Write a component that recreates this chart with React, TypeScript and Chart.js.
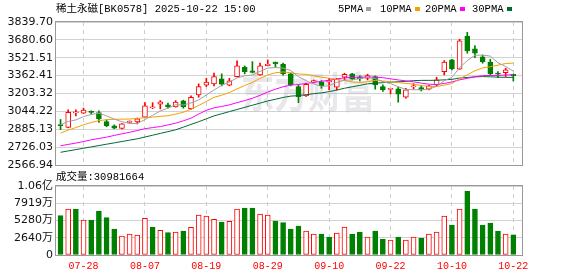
import React, { useEffect, useRef } from 'react';
import { Chart, registerables } from 'chart.js';

Chart.register(...registerables);

// ---------- data ----------
const dates = [
  '07-23', '07-24', '07-25', '07-28', '07-29', '07-30', '07-31', '08-01', '08-04', '08-05',
  '08-06', '08-07', '08-08', '08-11', '08-12', '08-13', '08-14', '08-15', '08-18', '08-19',
  '08-20', '08-21', '08-22', '08-25', '08-26', '08-27', '08-28', '08-29', '09-01', '09-02',
  '09-03', '09-04', '09-05', '09-08', '09-09', '09-10', '09-11', '09-12', '09-15', '09-16',
  '09-17', '09-18', '09-19', '09-22', '09-23', '09-24', '09-25', '09-26', '09-29', '09-30',
  '10-09', '10-10', '10-13', '10-14', '10-15', '10-16', '10-17', '10-20', '10-21', '10-22',
];

const opens = [
  2922, 2902, 3031, 3028, 3040, 3034, 2954, 2915, 2892, 2945,
  2951, 2993, 3076, 3108, 3102, 3084, 3138, 3069, 3191, 3277,
  3289, 3333, 3277, 3354, 3437, 3404, 3369, 3451, 3482, 3464,
  3378, 3265, 3182, 3304, 3304, 3309, 3259, 3348, 3378, 3351,
  3339, 3354, 3265, 3240, 3244, 3170, 3262, 3256, 3242, 3280,
  3398, 3502, 3419, 3715, 3600, 3529, 3482, 3380, 3389, 3375,
];
const highs = [
  2972, 3058, 3058, 3073, 3049, 3049, 2969, 2924, 2936, 2960,
  2984, 3122, 3122, 3140, 3117, 3140, 3144, 3182, 3289, 3339,
  3384, 3378, 3338, 3493, 3449, 3487, 3473, 3502, 3484, 3473,
  3384, 3280, 3295, 3324, 3318, 3339, 3338, 3384, 3382, 3360,
  3375, 3360, 3280, 3248, 3259, 3250, 3291, 3271, 3275, 3348,
  3496, 3508, 3686, 3748, 3629, 3546, 3508, 3398, 3428, 3376,
];
const lows = [
  2882, 2898, 3004, 3026, 3022, 2945, 2907, 2889, 2889, 2942,
  2933, 2991, 3068, 3066, 3073, 3082, 3073, 3062, 3170, 3265,
  3271, 3271, 3271, 3351, 3378, 3386, 3364, 3449, 3437, 3366,
  3271, 3122, 3178, 3295, 3250, 3235, 3235, 3324, 3324, 3315,
  3324, 3242, 3222, 3200, 3126, 3162, 3242, 3226, 3235, 3265,
  3369, 3413, 3418, 3562, 3522, 3473, 3369, 3345, 3354, 3315,
];
const closes = [
  2918, 3035, 3031, 3055, 3036, 2978, 2918, 2895, 2933, 2957,
  2978, 3093, 3076, 3129, 3084, 3126, 3084, 3170, 3265, 3304,
  3354, 3286, 3315, 3449, 3398, 3391, 3449, 3464, 3466, 3378,
  3282, 3176, 3286, 3318, 3271, 3309, 3330, 3375, 3333, 3333,
  3362, 3280, 3235, 3246, 3197, 3235, 3271, 3235, 3271, 3324,
  3482, 3422, 3671, 3582, 3562, 3487, 3378, 3376, 3413, 3362,
];

const ma5 = [
  2925, 2955, 2968, 2998, 3016, 3028, 3004, 2976, 2952, 2936,
  2936, 2971, 3009, 3048, 3073, 3103, 3101, 3119, 3146, 3190,
  3235, 3276, 3305, 3342, 3360, 3368, 3400, 3430, 3434, 3430,
  3408, 3353, 3318, 3288, 3267, 3272, 3303, 3321, 3324, 3336,
  3347, 3337, 3309, 3291, 3264, 3239, 3237, 3237, 3242, 3267,
  3317, 3347, 3434, 3496, 3544, 3545, 3536, 3477, 3443, 3403,
];
const ma10 = [
  2850, 2878, 2900, 2925, 2945, 2962, 2970, 2974, 2975, 2976,
  2982, 2988, 2993, 3000, 3005, 3020, 3036, 3064, 3097, 3132,
  3169, 3188, 3212, 3244, 3275, 3302, 3338, 3368, 3388, 3395,
  3388, 3377, 3374, 3361, 3348, 3340, 3328, 3319, 3306, 3301,
  3309, 3320, 3315, 3307, 3300, 3293, 3287, 3273, 3267, 3266,
  3278, 3292, 3335, 3369, 3406, 3431, 3441, 3456, 3470, 3474,
];
const ma20 = [
  2738, 2750, 2762, 2776, 2791, 2803, 2815, 2830, 2844, 2858,
  2874, 2890, 2900, 2909, 2924, 2939, 2960, 2984, 3020, 3054,
  3076, 3088, 3102, 3122, 3140, 3161, 3187, 3216, 3242, 3263,
  3278, 3283, 3293, 3302, 3312, 3321, 3333, 3343, 3347, 3348,
  3349, 3348, 3344, 3334, 3324, 3316, 3307, 3296, 3286, 3283,
  3293, 3306, 3325, 3338, 3353, 3362, 3364, 3364, 3368, 3370,
];
const ma30 = [
  2680, 2692, 2704, 2716, 2728, 2740, 2752, 2764, 2776, 2788,
  2800, 2816, 2832, 2848, 2864, 2880, 2904, 2928, 2952, 2978,
  3004, 3023, 3042, 3061, 3080, 3099, 3118, 3137, 3152, 3168,
  3180, 3184, 3193, 3202, 3209, 3220, 3234, 3250, 3263, 3276,
  3289, 3295, 3300, 3304, 3308, 3311, 3318, 3320, 3320, 3321,
  3325, 3329, 3341, 3346, 3351, 3354, 3352, 3349, 3347, 3347,
];

// volume in 万
const volumes = [
  6014, 7040, 7040, 5356, 5356, 6734, 5713, 3979, 2908, 3214,
  3061, 5611, 4285, 3775, 3418, 3520, 3673, 4234, 6122, 5969,
  5458, 5050, 5152, 7040, 7193, 7193, 6275, 6122, 5203, 4943,
  3979, 4438, 3673, 3214, 3214, 2755, 3367, 4285, 3214, 3520,
  2755, 3673, 2449, 2296, 2755, 2296, 2755, 2602, 3214, 3520,
  5969, 4591, 7040, 9795, 7040, 4591, 4897, 3673, 3214, 3098,
];

const priceTicks = [2566.94, 2726.03, 2885.13, 3044.22, 3203.32, 3362.41, 3521.51, 3680.6, 3839.7];
const volTicks = [0, 2640, 5280, 7919, 10560];
const volTickLabels = ['0', '2640万', '5280万', '7919万', '1.06亿'];
const xTickLabels = ['07-28', '08-07', '08-19', '08-29', '09-10', '09-22', '10-10', '10-22'];
const maNames = ['5PMA', '10PMA', '20PMA', '30PMA'];
const titleText = '稀土永磁[BK0578] 2025-10-22 15:00';
const volumeTitle = '成交量';
const lastVolume = '30981664';
const watermarkText = '东方财富';

// ---------- styles ----------
const RED = '#ff0000';
const GREEN = '#008000';
const MA_COLORS = ['#a0a0a0', '#f2a100', '#ff00ff', '#006a35'];
const MONO = "'Liberation Mono', 'Noto Sans CJK SC', monospace";
const AXIS = "'DejaVu Sans', 'Noto Sans CJK SC', sans-serif";
const X_MIN = -0.59;
const X_MAX = 60.13;

const tickIdx = xTickLabels.map((l) => dates.indexOf(l));

function xScale(showLabels: boolean): any {
  return {
    type: 'linear',
    min: X_MIN,
    max: X_MAX,
    offset: false,
    afterBuildTicks: (s: any) => {
      s.ticks = tickIdx.map((v) => ({ value: v }));
    },
    afterFit: (s: any) => {
      s.height = showLabels ? 21 : 0;
    },
    grid: { color: '#cccccc', drawTicks: false, offset: false, lineWidth: 1 },
    border: { display: false, dash: [4, 4] },
    ticks: {
      display: showLabels,
      autoSkip: false,
      maxRotation: 0,
      padding: 5,
      color: RED,
      font: { family: MONO, size: 10 },
      callback: (v: any) => dates[Math.round(Number(v))] ?? '',
    },
  };
}

function frameDraw(chart: any) {
  const { ctx, chartArea: a } = chart;
  ctx.save();
  ctx.strokeStyle = '#999999';
  ctx.lineWidth = 1;
  ctx.strokeRect(a.left - 0.5, a.top - 0.5, a.right - a.left + 1, a.bottom - a.top + 1);
  ctx.restore();
}

export default function App() {
  const priceRef = useRef<HTMLCanvasElement>(null);
  const volRef = useRef<HTMLCanvasElement>(null);

  useEffect(() => {
    const idx = dates.map((_, i) => i);
    const candleUp = closes.map((c, i) => c >= opens[i]);
    const volUp = closes.map((c, i) => c > opens[i]);

    const pricePlugin = {
      id: 'priceDecor',
      beforeDatasetsDraw(chart: any) {
        const { ctx } = chart;
        ctx.save();
        ctx.translate(308, 92);
        ctx.scale(0.8, 1);
        ctx.font = "bold 42px 'Noto Sans CJK SC'";
        ctx.fillStyle = 'rgba(180,180,195,0.32)';
        ctx.textAlign = 'center';
        ctx.textBaseline = 'middle';
        ctx.fillText(watermarkText, 0, 0);
        ctx.restore();
      },
      afterDraw(chart: any) {
        const { ctx } = chart;
        frameDraw(chart);
        ctx.save();
        ctx.font = `10.5px ${MONO}`;
        ctx.fillStyle = '#000000';
        ctx.textBaseline = 'middle';
        ctx.textAlign = 'left';
        ctx.fillText(titleText, 56, 9);
        const starts = [338, 380, 425, 472];
        maNames.forEach((n, i) => {
          ctx.fillStyle = '#000000';
          ctx.fillText(n, starts[i], 9);
          const w = ctx.measureText(n).width;
          ctx.fillStyle = MA_COLORS[i];
          ctx.fillRect(Math.round(starts[i] + w + 3), 7, 5, 4);
        });
        ctx.fillStyle = '#000000';
        ctx.fillText(volumeTitle + ':' + lastVolume, 56, 177);
        ctx.restore();
      },
    };

    const price = new Chart(priceRef.current as HTMLCanvasElement, {
      type: 'bar',
      data: {
        datasets: [
          ...[ma5, ma10, ma20, ma30].map((arr, k) => ({
            type: 'line' as const,
            data: arr.map((v, i) => ({ x: i, y: v })),
            borderColor: MA_COLORS[k],
            borderWidth: 1,
            pointRadius: 0,
            tension: 0,
            fill: false,
            order: 0,
          })),
          {
            type: 'bar' as const,
            data: idx.map((i) => ({ x: i, y: [lows[i], highs[i]] })),
            backgroundColor: candleUp.map((u) => (u ? RED : GREEN)),
            borderWidth: 0,
            barThickness: 1,
            grouped: false,
            order: 2,
          },
          {
            type: 'bar' as const,
            data: idx.map((i) => ({ x: i, y: [opens[i], closes[i]] })),
            backgroundColor: candleUp.map((u) => (u ? '#ffffff' : GREEN)),
            borderColor: candleUp.map((u) => (u ? RED : GREEN)),
            borderWidth: 1,
            borderSkipped: false,
            barThickness: 5,
            minBarLength: 1,
            grouped: false,
            order: 1,
          },
        ] as any,
      },
      options: {
        animation: false,
        responsive: false,
        devicePixelRatio: 1,
        layout: { padding: { left: 0, right: 56, top: 22, bottom: 20 } },
        plugins: { legend: { display: false }, tooltip: { enabled: false } },
        scales: {
          x: xScale(false),
          y: {
            type: 'linear',
            min: priceTicks[0],
            max: priceTicks[priceTicks.length - 1],
            beginAtZero: false,
            afterBuildTicks: (s: any) => {
              s.ticks = priceTicks.map((v) => ({ value: v }));
            },
            afterFit: (s: any) => {
              s.width = 56;
            },
            grid: { color: '#d2d2d2', drawTicks: false },
            border: { display: false },
            ticks: {
              autoSkip: false,
              padding: 3,
              color: '#111111',
              font: { family: AXIS, size: 11 },
              callback: (_v: any, i: number) => priceTicks[i].toFixed(2),
            },
          },
        } as any,
      },
      plugins: [pricePlugin],
    });

    const volPlugin = {
      id: 'volDecor',
      afterDraw(chart: any) {
        frameDraw(chart);
      },
    };

    const vol = new Chart(volRef.current as HTMLCanvasElement, {
      type: 'bar',
      data: {
        datasets: [
          {
            data: idx.map((i) => ({ x: i, y: volumes[i] })),
            backgroundColor: volUp.map((u) => (u ? '#ffffff' : GREEN)),
            borderColor: volUp.map((u) => (u ? RED : GREEN)),
            borderWidth: 1,
            borderSkipped: false,
            barThickness: 5,
            grouped: false,
          },
        ] as any,
      },
      options: {
        animation: false,
        responsive: false,
        devicePixelRatio: 1,
        layout: { padding: { left: 0, right: 56, top: 20, bottom: 0 } },
        plugins: { legend: { display: false }, tooltip: { enabled: false } },
        scales: {
          x: xScale(true),
          y: {
            type: 'linear',
            min: 0,
            max: volTicks[volTicks.length - 1],
            afterBuildTicks: (s: any) => {
              s.ticks = volTicks.map((v) => ({ value: v }));
            },
            afterFit: (s: any) => {
              s.width = 56;
            },
            grid: { color: '#d2d2d2', drawTicks: false },
            border: { display: false },
            ticks: {
              autoSkip: false,
              padding: 3,
              color: '#111111',
              font: { family: AXIS, size: 11 },
              callback: (_v: any, i: number) => volTickLabels[i],
            },
          },
        } as any,
      },
      plugins: [volPlugin],
    });

    return () => {
      price.destroy();
      vol.destroy();
    };
  }, []);

  return (
    <div style={{ position: 'fixed', left: 0, top: 0, width: 578, height: 276, background: '#ffffff' }}>
      <canvas ref={priceRef} width={578} height={185} style={{ position: 'absolute', left: 0, top: 0 }} />
      <canvas ref={volRef} width={578} height={110} style={{ position: 'absolute', left: 0, top: 166 }} />
    </div>
  );
}
